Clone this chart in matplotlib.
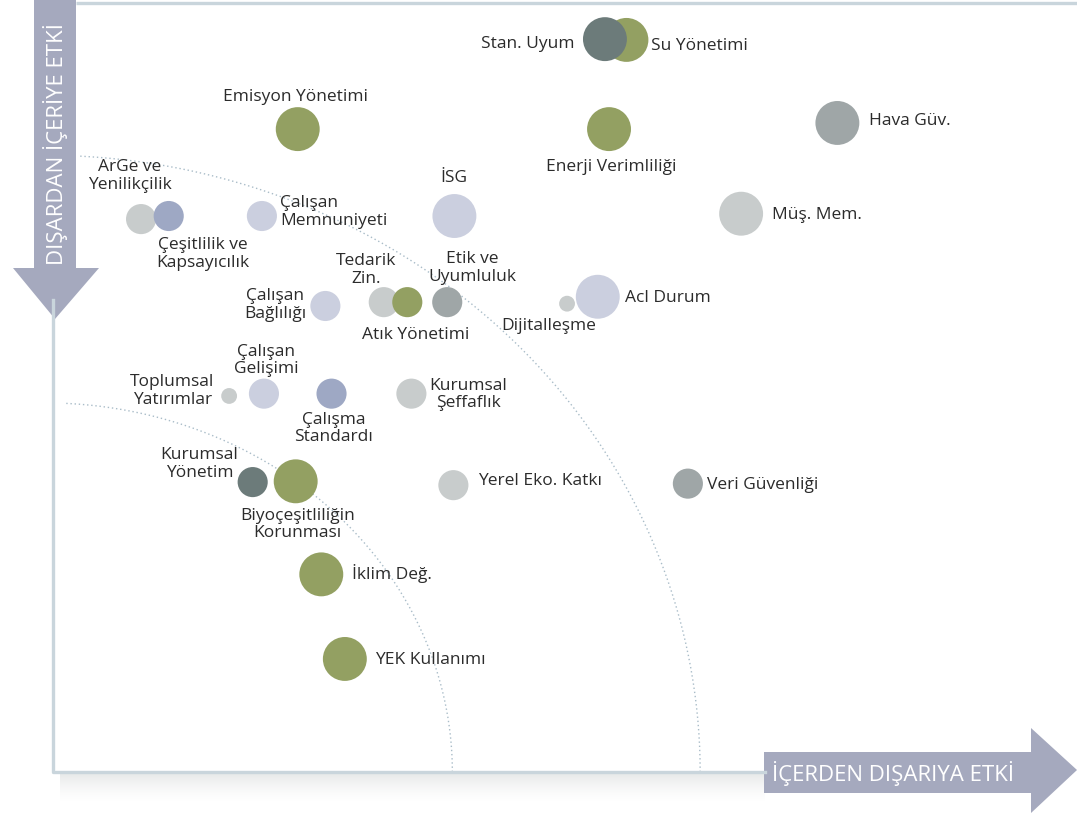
import numpy as np
import matplotlib
matplotlib.use("Agg")
import matplotlib.pyplot as plt
from matplotlib.patches import Polygon

plt.rcParams["font.family"] = ["Open Sans", "DejaVu Sans"]

# --- data: impact scores (0-100) ---
labels = ["Su Yönetimi", "Stan. Uyum", "Emisyon Yönetimi", "Enerji Verimliliği",
          "Hava Güv.", "Müş. Mem.", "İSG", "Acl Durum", "Dijitalleşme",
          "ArGe ve\nYenilikçilik", "Çeşitlilik ve\nKapsayıcılık",
          "Çalışan\nMemnuniyeti", "Çalışan\nBağlılığı", "Tedarik\nZin.",
          "Atık Yönetimi", "Etik ve\nUyumluluk", "Toplumsal\nYatırımlar",
          "Çalışan\nGelişimi", "Çalışma\nStandardı", "Kurumsal\nŞeffaflık",
          "Kurumsal\nYönetim", "Biyoçeşitliliğin\nKorunması", "Yerel Eko. Katkı",
          "Veri Güvenliği", "İklim Değ.", "YEK Kullanımı"]
inside_out = [56.0, 53.9, 23.9, 54.3, 76.6, 67.2, 39.2, 53.2, 50.2, 8.6, 11.3,
              20.4, 26.6, 32.3, 34.6, 38.5, 17.2, 20.6, 27.2, 35.0, 19.5, 23.7,
              39.1, 62.0, 26.2, 28.5]
outside_in = [95.2, 95.3, 83.6, 83.6, 84.4, 72.6, 72.3, 61.8, 60.9, 71.9, 72.3,
              72.3, 60.6, 61.1, 61.1, 61.1, 48.9, 49.2, 49.2, 49.2, 37.7, 37.8,
              37.3, 37.5, 25.7, 14.7]
weight = [3, 3, 3, 3, 3, 3, 3, 3, 1, 2, 2, 2, 2, 2, 2, 2, 1, 2, 2, 2, 2, 3,
          2, 2, 3, 3]
group = ["olive", "slate", "olive", "olive", "grey", "light", "lavender",
         "lavender", "light", "light", "blue", "lavender", "lavender", "light",
         "olive", "grey", "light", "lavender", "blue", "light", "slate", "olive",
         "light", "grey", "olive", "olive"]

# --- styling / layout ---
COLORS = {"olive": "#93a062", "slate": "#6c7b7a", "grey": "#9fa6a7",
          "light": "#c8cccc", "lavender": "#cbcfdf", "blue": "#9ea8c4"}
AREA = {1: 130, 2: 470, 3: 1000}
# label offsets in pixels from bubble centre, and horizontal alignment
label_pos = [(25, -6, "left"), (-30, -5, "right"), (-2, 32, "center"),
             (2, -38, "center"), (32, 2, "left"), (31, -1, "left"),
             (-1, 38, "center"), (27, -1, "left"), (-18, -22, "center"),
             (-11, 43, "center"), (34, -38, "center"), (18, 4, "left"),
             (-50, 1, "center"), (-18, 32, "center"), (8, -33, "center"),
             (25, 34, "center"), (-57, 5, "center"), (2, 33, "center"),
             (2, -35, "center"), (57, -1, "center"), (-53, 18, "center"),
             (2, -43, "center"), (25, 4, "left"), (19, -1, "left"),
             (31, 1, "left"), (30, -1, "left")]
ARROW = "#a5a9be"
FRAME = "#c9d5dc"
ARC = "#a9bcc8"
TEXT = "#2b2b2b"

W, H = 1077, 813
fig = plt.figure(figsize=(W / 100, H / 100), dpi=100)
fig.patch.set_facecolor("white")

# decoration layer in pixel coordinates
bg = fig.add_axes([0, 0, 1, 1], zorder=2)
bg.set_xlim(0, W)
bg.set_ylim(H, 0)
bg.set_axis_off()
bg.patch.set_alpha(0)

# data layer
ax = fig.add_axes([53 / W, (H - 772) / H, 1024 / W, 769 / H], zorder=1)
ax.set_xlim(0, 100)
ax.set_ylim(0, 100)
ax.set_axis_off()

# frame + shadow
bg.plot([76, W], [3, 3], color=FRAME, lw=2.4, solid_capstyle="butt")
bg.plot([53, 53, 765], [300, 772, 772], color=FRAME, lw=2.4)
n = 28
for i in range(n):
    bg.fill_between([60, 765], 774 + i, 775 + i, color="#8f9699",
                    alpha=0.2 * (1 - i / n) ** 1.5, lw=0)

# dotted quarter-ellipses
theta = np.linspace(0, np.pi / 2, 300)
for a, b, xmin in ((39.8, 48.0, 1.0), (64.0, 80.2, 2.3)):
    xs = -0.8 + a * np.cos(theta)
    ys = b * np.sin(theta)
    m = xs >= xmin
    ax.plot(xs[m], ys[m], color=ARC, lw=1.0, ls=(0, (1, 2)), clip_on=False)

# bubbles
for i in range(len(labels)):
    ax.scatter(inside_out[i], outside_in[i], s=AREA[weight[i]],
               color=COLORS[group[i]], edgecolors="none", zorder=3)
    dx, dy, ha = label_pos[i]
    ax.annotate(labels[i], (inside_out[i], outside_in[i]),
                xytext=(dx, dy), textcoords="offset pixels",
                ha=ha, va="center", multialignment=ha,
                fontsize=12.5, color=TEXT, linespacing=1.12, zorder=4)

# axis arrows
bg.add_patch(Polygon([(34, 0), (76, 0), (76, 268), (99, 268), (55, 319),
                      (13, 268), (34, 268)], closed=True, color=ARROW, lw=0))
bg.text(55, 144, "DIŞARDAN İÇERİYE ETKİ", rotation=90, color="white",
        ha="center", va="center", fontsize=16)
bg.add_patch(Polygon([(764, 752), (1031, 752), (1031, 728), (1077, 770),
                      (1031, 813), (1031, 793), (764, 793)], closed=True,
                     color=ARROW, lw=0))
bg.text(893, 773, "İÇERDEN DIŞARIYA ETKİ", color="white",
        ha="center", va="center", fontsize=16)

fig.savefig("out.png", dpi=100, facecolor="white")
